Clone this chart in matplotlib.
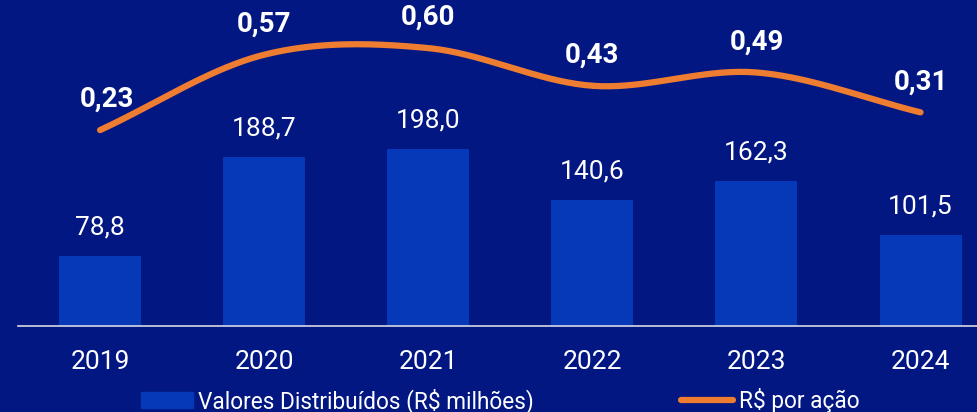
import matplotlib

matplotlib.use("Agg")
import matplotlib.pyplot as plt
from matplotlib.lines import Line2D
from matplotlib.patches import Patch
import numpy as np

years = ["2019", "2020", "2021", "2022", "2023", "2024"]
valores = [78.8, 188.7, 198.0, 140.6, 162.3, 101.5]
por_acao = [0.23, 0.57, 0.60, 0.43, 0.49, 0.31]

BG = "#021782"
BAR = "#0539b8"
ORANGE = "#ee7d31"

plt.rcParams["font.family"] = ["Roboto", "DejaVu Sans"]


def smooth(x, y, n=40):
    # catmull-rom spline through the points (like excel's smoothed line)
    x = np.asarray(x, float)
    y = np.asarray(y, float)
    px = np.concatenate([[2 * x[0] - x[1]], x, [2 * x[-1] - x[-2]]])
    py = np.concatenate([[2 * y[0] - y[1]], y, [2 * y[-1] - y[-2]]])
    xs, ys = [], []
    t = np.linspace(0, 1, n)
    for i in range(1, len(px) - 2):
        for p, out in ((px, xs), (py, ys)):
            p0, p1, p2, p3 = p[i - 1], p[i], p[i + 1], p[i + 2]
            out.extend(0.5 * ((2 * p1) + (-p0 + p2) * t
                              + (2 * p0 - 5 * p1 + 4 * p2 - p3) * t ** 2
                              + (-p0 + 3 * p1 - 3 * p2 + p3) * t ** 3))
    return xs, ys


fig = plt.figure(figsize=(9.78, 4.12), dpi=100, facecolor=BG)
ax = fig.add_axes([18 / 978, 86 / 412, 960 / 978, 326 / 412])
ax.set_facecolor(BG)
x = np.arange(len(years))

ax.bar(x, valores, width=0.5, color=BAR, zorder=2)
for xi, v in zip(x, valores):
    ax.annotate(f"{v:.1f}".replace(".", ","), (xi, v), xytext=(0, 20.5),
                textcoords="offset points", ha="center", va="center",
                color="white", fontsize=19)

ax.set_xlim(-0.5, 5.35)
ax.set_ylim(0, 364.6)
ax.set_xticks(x)
ax.set_xticklabels(years)
ax.tick_params(axis="x", length=0, pad=17, labelsize=19, colors="white")
ax.set_yticks([])
for s in ["top", "right", "left"]:
    ax.spines[s].set_visible(False)
ax.spines["bottom"].set_color("#d9d9e6")
ax.spines["bottom"].set_linewidth(1.2)

ax2 = ax.twinx()
ax2.set_ylim(-0.654, 0.817)
ax2.axis("off")
sx, sy = smooth(x, por_acao)
ax2.plot(sx, sy, color=ORANGE, lw=4.5, solid_capstyle="round", zorder=3)
for xi, v in zip(x, por_acao):
    ax2.annotate(f"{v:.2f}".replace(".", ","), (xi, v), xytext=(5 if xi == 0 else 0, 22),
                 textcoords="offset points", ha="center", va="center",
                 color="white", fontsize=20, fontweight="bold")

handles = [Patch(color=BAR), Line2D([0], [0], color=ORANGE, lw=4.5, solid_capstyle="round")]
fig.legend(handles, ["Valores Distribuídos (R$ milhões)", "R$ por ação"],
           loc="center", bbox_to_anchor=(500 / 978, 11 / 412), ncol=2,
           frameon=False, fontsize=16.3, labelcolor="white", handlelength=2.3,
           handletextpad=0.25, columnspacing=6.5, borderpad=0)

fig.savefig("out.png", dpi=100, facecolor=BG)
